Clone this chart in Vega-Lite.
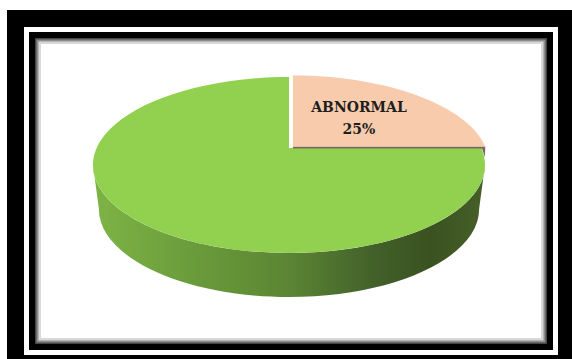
{
  "$schema": "https://vega.github.io/schema/vega-lite/v6.json",
  "autosize": "none",
  "width": 512,
  "height": 306,
  "padding": {"left": 35, "top": 38, "right": 25, "bottom": 15},
  "background": "white",
  "config": {"view": {"stroke": null}},
  "data": {"values": [
    {"category": "ABNORMAL", "share": 0.25},
    {"category": "NORMAL", "share": 0.75}
  ]},
  "layer": [
    {"data": {"values": [{}]}, "mark": {"type": "rect", "fill": "transparent", "stroke": "black", "strokeWidth": 56}},
    {"data": {"values": [{}]}, "mark": {"type": "rect", "fill": "transparent", "stroke": "white", "strokeWidth": 22}},
    {"data": {"values": [{}]}, "mark": {"type": "rect", "fill": "transparent", "stroke": "black", "strokeWidth": 12}},
    {"data": {"values": [{}]}, "mark": {"type": "rect", "fill": "white", "strokeWidth": 0}},
    {"data": {"values": [{}]}, "mark": {"type": "rect", "fill": "transparent", "stroke": "black", "strokeOpacity": 0.15, "strokeWidth": 12}},
    {"data": {"values": [{}]}, "mark": {"type": "rect", "fill": "transparent", "stroke": "black", "strokeOpacity": 0.35, "strokeWidth": 7}},
    {"data": {"values": [{}]}, "mark": {"type": "rect", "fill": "transparent", "stroke": "black", "strokeOpacity": 0.5, "strokeWidth": 3}},
    {
      "transform": [{"filter": "datum.category === 'NORMAL'"}],
      "mark": {
        "type": "point", "filled": true, "opacity": 1, "strokeWidth": 0,
        "size": 153664, "xOffset": -2, "yOffset": -26,
        "shape": "M -1 0 A 1 0.449 0 0 0 1 0 L 0.97 0.2245 A 0.97 0.449 0 0 1 -0.97 0.2245 Z",
        "fill": {"gradient": "linear", "x1": 0, "y1": 0, "x2": 1, "y2": 0, "stops": [
          {"offset": 0, "color": "#7db446"},
          {"offset": 0.25, "color": "#6b9c3b"},
          {"offset": 0.5, "color": "#5b8533"},
          {"offset": 0.72, "color": "#42602a"},
          {"offset": 0.86, "color": "#3a5220"},
          {"offset": 1, "color": "#475f28"}
        ]}
      },
      "encoding": {}
    },
    {
      "transform": [{"filter": "datum.category === 'NORMAL'"}],
      "mark": {"type": "point", "filled": true, "opacity": 1, "strokeWidth": 0, "size": 153664, "xOffset": -2, "yOffset": -26},
      "encoding": {
        "shape": {"field": "category", "type": "nominal", "legend": null, "scale": {"domain": ["ABNORMAL", "NORMAL"], "range": ["M 0.02 -0.0947 L 0.02 -0.457 A 1 0.449 0 0 1 1.0012 -0.0947 Z", "M 0 -0.0867 L 0.9812 -0.0867 A 1 0.449 0 1 1 0 -0.449 Z"]}},
        "color": {"field": "category", "type": "nominal", "legend": null, "scale": {"domain": ["ABNORMAL", "NORMAL"], "range": ["#f8cbad", "#92d050"]}}
      }
    },
    {
      "transform": [{"filter": "datum.category === 'ABNORMAL'"}],
      "mark": {
        "type": "point", "filled": true, "opacity": 1, "strokeWidth": 0,
        "size": 153664, "xOffset": -2, "yOffset": -26, "fill": "#7a6858",
        "shape": "M 0.02 -0.0947 L 1.0012 -0.0947 L 1.0 -0.04 L 0.985 -0.0847 L 0.02 -0.0847 Z"
      },
      "encoding": {}
    },
    {
      "mark": {"type": "point", "filled": true, "opacity": 1, "strokeWidth": 0, "size": 153664, "xOffset": -2, "yOffset": -26},
      "transform": [{"filter": "datum.category === 'ABNORMAL'"}],
      "encoding": {
        "shape": {"field": "category", "type": "nominal", "legend": null, "scale": {"domain": ["ABNORMAL", "NORMAL"], "range": ["M 0.02 -0.0947 L 0.02 -0.457 A 1 0.449 0 0 1 1.0012 -0.0947 Z", "M 0 -0.0867 L 0.9812 -0.0867 A 1 0.449 0 1 1 0 -0.449 Z"]}},
        "color": {"field": "category", "type": "nominal", "legend": null, "scale": {"domain": ["ABNORMAL", "NORMAL"], "range": ["#f8cbad", "#92d050"]}}
      }
    },
    {
      "transform": [{"filter": "datum.category === 'ABNORMAL'"}],
      "mark": {"type": "text", "font": "DejaVu Serif", "fontWeight": "bold", "fontSize": 14, "color": "#1e1e1e", "align": "center", "baseline": "alphabetic", "xOffset": 68, "yOffset": -79},
      "encoding": {"text": {"field": "category", "type": "nominal"}}
    },
    {
      "transform": [{"filter": "datum.category === 'ABNORMAL'"}],
      "mark": {"type": "text", "font": "DejaVu Serif", "fontWeight": "bold", "fontSize": 14, "color": "#1e1e1e", "align": "center", "baseline": "alphabetic", "xOffset": 68, "yOffset": -57},
      "encoding": {"text": {"field": "share", "type": "quantitative", "format": ".0%"}}
    }
  ]
}
